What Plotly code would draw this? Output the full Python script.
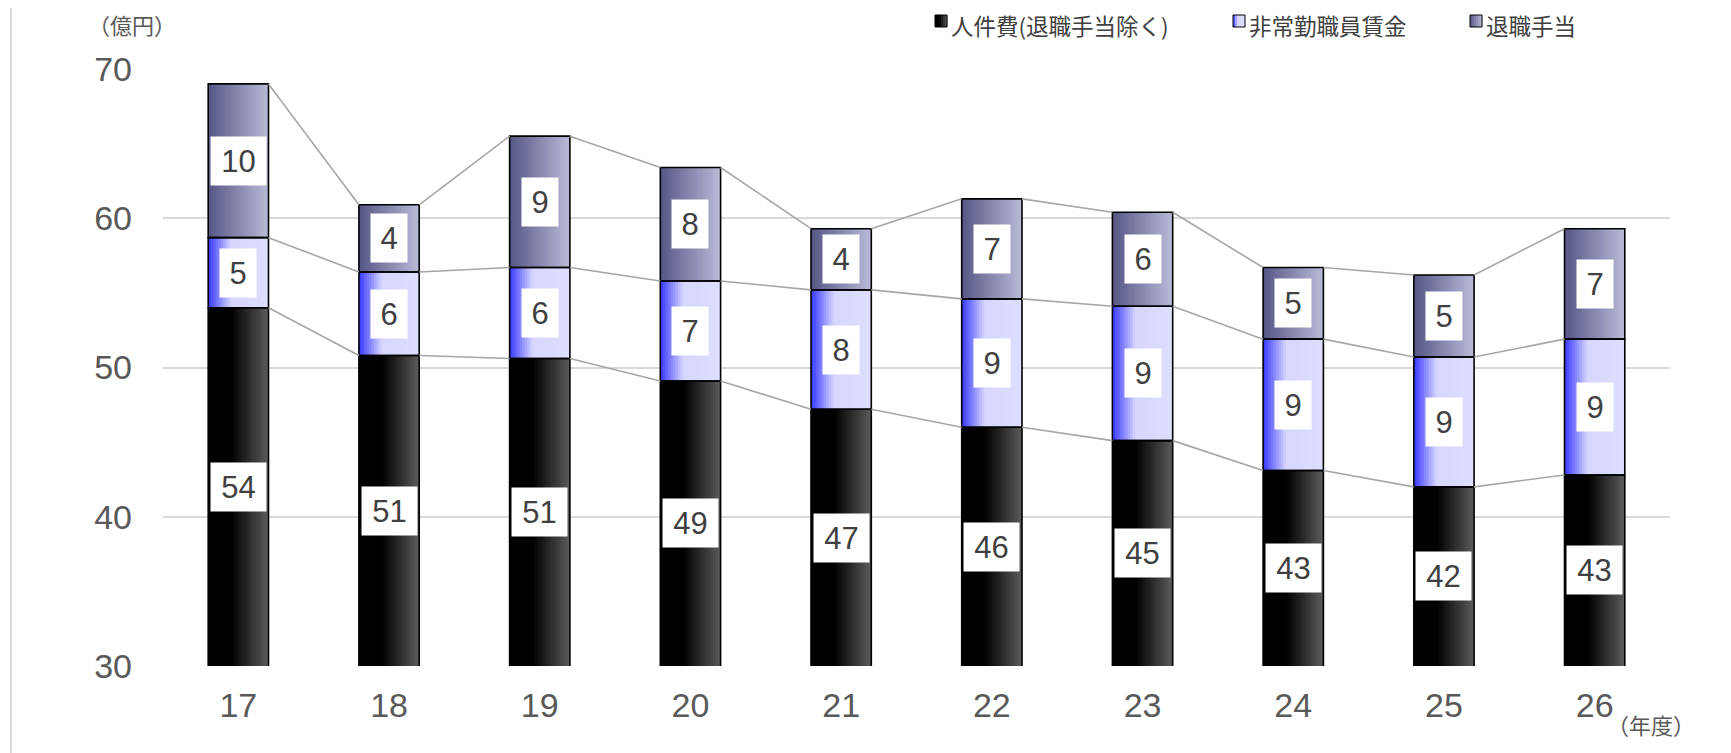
import plotly.graph_objects as go

# ---------------- data ----------------
years = ["17", "18", "19", "20", "21", "22", "23", "24", "25", "26"]
personnel = [54.0, 50.8, 50.6, 49.1, 47.2, 46.0, 45.1, 43.1, 42.0, 42.8]      # 人件費(退職手当除く)
nonregular = [4.7, 5.6, 6.1, 6.7, 8.0, 8.6, 9.0, 8.8, 8.7, 9.1]             # 非常勤職員賃金
retirement = [10.3, 4.5, 8.8, 7.6, 4.1, 6.7, 6.3, 4.8, 5.5, 7.4]            # 退職手当
personnel_labels = [54, 51, 51, 49, 47, 46, 45, 43, 42, 43]
nonregular_labels = [5, 6, 6, 7, 8, 9, 9, 9, 9, 9]
retirement_labels = [10, 4, 9, 8, 4, 7, 6, 5, 5, 7]
series_names = ["人件費(退職手当除く)", "非常勤職員賃金", "退職手当"]
y_ticks = [30, 40, 50, 60, 70]

# ---------------- style ----------------
FONT = "Liberation Sans, Arial, Noto Sans CJK JP, sans-serif"
JFONT = "Noto Sans CJK JP, sans-serif"
W = 1731
H = 753
OFF = 8  # page body margin
ML, MR, MT, MB = 163 - OFF, 61 + OFF, 69 - OFF, 87 + OFF
PW = W - ML - MR
PH = H - MT - MB
BAR_W = 0.40
N_STRIPES = 24


def lerp(a, b, t):
    return tuple(a[i] + (b[i] - a[i]) * t for i in range(3))


def grad_black(t):
    if t < 0.38:
        return (0, 0, 0)
    return lerp((0, 0, 0), (92, 92, 92), (t - 0.38) / 0.62)


def grad_blue(t):
    if t < 0.38:
        return lerp((55, 55, 255), (214, 214, 255), t / 0.38)
    return lerp((214, 214, 255), (222, 222, 255), (t - 0.38) / 0.62)


def grad_ret(t):
    return lerp((86, 86, 134), (186, 186, 216), t)


def rgb(c):
    return "rgb(%d,%d,%d)" % tuple(int(round(v)) for v in c)


grads = [grad_black, grad_blue, grad_ret]
series = [personnel, nonregular, retirement]
labels = [personnel_labels, nonregular_labels, retirement_labels]

xs = list(range(len(years)))
bases = []
tops = []
cum = [0.0] * len(years)
for vals in series:
    bases.append(list(cum))
    cum = [c + v for c, v in zip(cum, vals)]
    tops.append(list(cum))

fig = go.Figure()

# gradient stripes
for s, vals in enumerate(series):
    for k in range(N_STRIPES):
        t = (k + 0.5) / N_STRIPES
        sw = BAR_W / N_STRIPES
        width = sw * (1.6 if k < N_STRIPES - 1 else 1.0)
        fig.add_trace(go.Bar(
            x=xs, y=vals, base=bases[s],
            width=[width] * len(xs),
            offset=-BAR_W / 2 + k * sw,
            marker=dict(color=rgb(grads[s](t)), line=dict(width=0)),
            showlegend=False, hoverinfo="skip",
        ))

# outlines
for s, vals in enumerate(series):
    fig.add_trace(go.Bar(
        x=xs, y=vals, base=bases[s],
        width=[BAR_W] * len(xs), offset=-BAR_W / 2,
        marker=dict(color="rgba(0,0,0,0)", line=dict(color="#000000", width=1.6)),
        name=series_names[s], showlegend=False, hoverinfo="skip",
    ))

# connector lines
for s in range(3):
    lx, ly = [], []
    for i in range(len(xs) - 1):
        lx += [xs[i] + BAR_W / 2, xs[i + 1] - BAR_W / 2, None]
        ly += [tops[s][i], tops[s][i + 1], None]
    fig.add_trace(go.Scatter(
        x=lx, y=ly, mode="lines",
        line=dict(color="#a6a6a6", width=1.6),
        showlegend=False, hoverinfo="skip",
    ))

# data labels
annotations = []
for s in range(3):
    for i in range(len(xs)):
        lo = max(bases[s][i], y_ticks[0])
        yc = (lo + tops[s][i]) / 2
        txt = str(labels[s][i])
        annotations.append(dict(
            x=xs[i], y=yc, xref="x", yref="y", text=txt, showarrow=False,
            font=dict(family=FONT, size=31, color="#404040"),
            bgcolor="#ffffff", borderpad=5,
            width=26 if len(txt) == 1 else 45, height=38,
        ))


def px_x(p):
    return (p - OFF - ML) / PW


def px_y(p):
    return (H - MB - (p - OFF)) / PH


# axis unit labels
annotations.append(dict(
    x=px_x(87), y=px_y(24), xref="paper", yref="paper", text="（億円）",
    showarrow=False, xanchor="left", yanchor="middle", borderpad=0,
    font=dict(family=JFONT, size=22, color="#595959"),
))
annotations.append(dict(
    x=px_x(1606), y=px_y(724), xref="paper", yref="paper", text="（年度）",
    showarrow=False, xanchor="left", yanchor="middle", borderpad=0,
    font=dict(family=JFONT, size=22, color="#595959"),
))

# legend (squares + text)
shapes = []
legend_x = [935, 1233, 1470]
for s in range(3):
    x0 = legend_x[s]
    n = 6
    for k in range(n):
        t = (k + 0.5) / n
        shapes.append(dict(
            type="rect", xref="paper", yref="paper",
            x0=px_x(x0 + k * 12 / n), x1=px_x(x0 + (k + 1) * 12 / n + 0.3),
            y0=px_y(27), y1=px_y(15),
            fillcolor=rgb(grads[s](t)), line=dict(width=0), layer="above",
        ))
    shapes.append(dict(
        type="rect", xref="paper", yref="paper",
        x0=px_x(x0), x1=px_x(x0 + 12), y0=px_y(27), y1=px_y(15),
        fillcolor="rgba(0,0,0,0)", line=dict(color="#000000", width=1), layer="above",
    ))
    annotations.append(dict(
        x=px_x(x0 + 15), y=px_y(25), xref="paper", yref="paper",
        text=series_names[s], showarrow=False, xanchor="left", yanchor="middle",
        borderpad=0,
        font=dict(family=JFONT, size=22.5, color="#404040"),
    ))

# left frame line
shapes.append(dict(
    type="line", xref="paper", yref="paper",
    x0=px_x(11), x1=px_x(11), y0=px_y(0), y1=px_y(H),
    line=dict(color="#d9d9d9", width=2), layer="below",
))

fig.update_layout(
    width=W, height=H,
    margin=dict(l=ML, r=MR, t=MT, b=MB, pad=0),
    paper_bgcolor="#ffffff", plot_bgcolor="#ffffff",
    barmode="overlay", showlegend=False,
    annotations=annotations, shapes=shapes,
    xaxis=dict(
        range=[-0.5, len(xs) - 0.5], tickmode="array", tickvals=xs, ticktext=years,
        showgrid=False, zeroline=False, showline=False, ticks="",
        tickfont=dict(family=FONT, size=34, color="#595959"),
        ticklabelstandoff=16,
    ),
    yaxis=dict(
        range=[y_ticks[0], y_ticks[-1]], tickmode="array", tickvals=y_ticks,
        showgrid=True, gridcolor="#d9d9d9", gridwidth=2,
        zeroline=False, showline=False, ticks="",
        tickfont=dict(family=FONT, size=34, color="#595959"),
        ticklabelstandoff=30,
    ),
    font=dict(family=FONT),
)

fig.write_html("out.html")
